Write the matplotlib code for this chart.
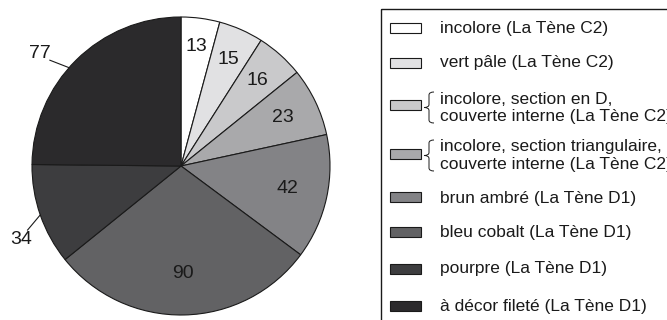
import numpy as np
import matplotlib
matplotlib.use("Agg")
import matplotlib.pyplot as plt
from matplotlib.patches import Rectangle
from matplotlib.path import Path
from matplotlib.patches import PathPatch

plt.rcParams['font.family'] = ['Liberation Sans', 'DejaVu Sans']

values = [13, 15, 16, 23, 42, 90, 34, 77]
colors = ['#ffffff', '#e1e1e3', '#c9c9cb', '#a9a9ab', '#838386', '#626264', '#3d3d3f', '#2b2a2c']
legend_labels = [
    ['incolore (La Tène C2)'],
    ['vert pâle (La Tène C2)'],
    ['incolore, section en D,', 'couverte interne (La Tène C2)'],
    ['incolore, section triangulaire,', 'couverte interne (La Tène C2)'],
    ['brun ambré (La Tène D1)'],
    ['bleu cobalt (La Tène D1)'],
    ['pourpre (La Tène D1)'],
    ['à décor fileté (La Tène D1)'],
]

W, H = 667, 320
fig = plt.figure(figsize=(W / 100, H / 100), dpi=100)

# pie axes: center (181,166) px, radius 149 px
cx, cy, r = 181, 166, 149
ax = fig.add_axes([(cx - r) / W, (H - cy - r) / H, 2 * r / W, 2 * r / H])
wedges, _ = ax.pie(values, colors=colors, startangle=90, counterclock=False,
                   wedgeprops=dict(edgecolor='#1a1a1a', linewidth=0.8))
ax.set_xlim(-1, 1)
ax.set_ylim(-1, 1)
ax.set_aspect('equal')
ax.axis('off')

inside_r = [0.81, 0.78, 0.77, 0.76, 0.73, 0.72]
for i, w in enumerate(wedges):
    mid = np.deg2rad((w.theta1 + w.theta2) / 2)
    if i < len(inside_r):
        rr = inside_r[i]
        ax.text(rr * np.cos(mid), rr * np.sin(mid), str(values[i]),
                ha='center', va='center', fontsize=14, color='#1a1a1a')

# outside labels with leader lines: (label pos, line start, angle offset deg)
outside = {6: ((-1.07, -0.49), (-1.03, -0.43), 0.0),
           7: ((-0.946, 0.755), (-0.88, 0.71), 4.0)}
for i, (lab, start, off) in outside.items():
    w = wedges[i]
    mid = np.deg2rad((w.theta1 + w.theta2) / 2 + off)
    ex, ey = np.cos(mid), np.sin(mid)
    ax.text(lab[0], lab[1], str(values[i]), ha='center', va='center', fontsize=14, color='#1a1a1a')
    ax.plot([start[0], ex], [start[1], ey], color='#1a1a1a', lw=0.8, clip_on=False)

# legend overlay axes in pixel coordinates
lax = fig.add_axes([0, 0, 1, 1])
lax.set_xlim(0, W)
lax.set_ylim(H, 0)
lax.axis('off')
lax.add_patch(Rectangle((381, 9), 400, 400, facecolor='none', edgecolor='#1a1a1a', lw=1.0))

swatch_y = [28, 63, 105, 154, 197, 232, 269, 306]
text_y = [[28], [63], [99, 116], [147, 164], [199], [233], [269], [306]]
for i, (sy, ty, labs) in enumerate(zip(swatch_y, text_y, legend_labels)):
    lax.add_patch(Rectangle((390, sy - 5), 31, 10, facecolor=colors[i], edgecolor='#1a1a1a', lw=0.8))
    for t, lab in zip(ty, labs):
        lax.text(440, t, lab, ha='left', va='center', fontsize=12.5, color='#1a1a1a')
    if len(labs) == 2:
        top, bot = ty[0] - 7, ty[1] + 7
        midy = (top + bot) / 2
        xr, xm, xp = 434, 429, 424
        verts = [(xr, top), (xm, top), (xm, top + 3), (xm, midy - 3),
                 (xm, midy), (xp, midy), (xp, midy),
                 (xm, midy), (xm, midy + 3), (xm, bot - 3),
                 (xm, bot), (xr, bot), (xr, bot)]
        codes = [Path.MOVETO, Path.CURVE3, Path.CURVE3, Path.LINETO,
                 Path.CURVE3, Path.CURVE3, Path.MOVETO,
                 Path.CURVE3, Path.CURVE3, Path.LINETO,
                 Path.CURVE3, Path.CURVE3, Path.LINETO]
        lax.add_patch(PathPatch(Path(verts, codes), facecolor='none', edgecolor='#1a1a1a', lw=0.7))

fig.savefig('out.png', dpi=100)
